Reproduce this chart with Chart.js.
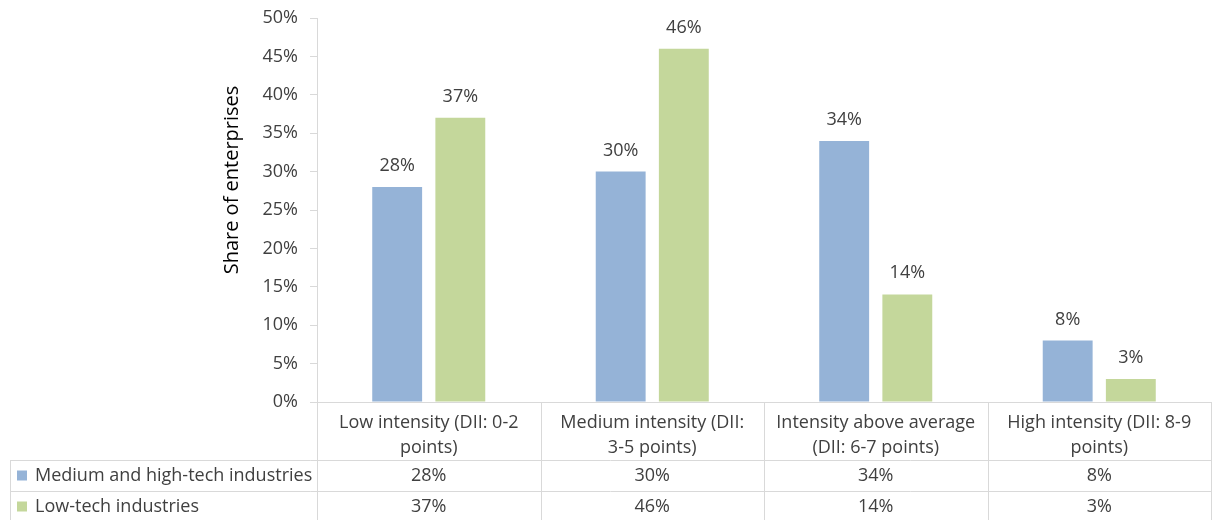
<!DOCTYPE html>
<html>
<head>
<meta charset="utf-8">
<script src="https://cdn.jsdelivr.net/npm/chart.js@4.4.0/dist/chart.umd.min.js"></script>
<style>
  html, body { margin: 0; padding: 0; background: #fff; }
  #wrap { width: 1215px; height: 520px; }
</style>
</head>
<body>
<div id="wrap"><canvas id="digiChart" width="1215" height="520"></canvas></div>
<script>
const categories = [
  ['Low intensity (DII: 0-2', 'points)'],
  ['Medium intensity (DII:', '3-5 points)'],
  ['Intensity above average', '(DII: 6-7 points)'],
  ['High intensity (DII: 8-9', 'points)']
];
const seriesNames = ['Medium and high-tech industries', 'Low-tech industries'];
const mediumHighTech = [28, 30, 34, 8];
const lowTech = [37, 46, 14, 3];
const yTicks = { min: 0, max: 50, step: 5 };
const yTitle = 'Share of enterprises';

const FONT = "'Open Sans', sans-serif";
const TEXT = '#404040';
const LINE = '#d9d9d9';
const COLORS = ['#95b3d7', '#c4d79b'];

// labels above bars
const barLabels = {
  id: 'barLabels',
  afterDatasetsDraw(chart) {
    const ctx = chart.ctx;
    ctx.save();
    ctx.font = '18px ' + FONT;
    ctx.fillStyle = TEXT;
    ctx.textAlign = 'center';
    ctx.textBaseline = 'alphabetic';
    chart.data.datasets.forEach((ds, i) => {
      chart.getDatasetMeta(i).data.forEach((bar, j) => {
        ctx.fillText(ds.data[j] + '%', bar.x, bar.y - 16);
      });
    });
    ctx.restore();
  }
};

// y axis title, sits a bit above the middle like the original
const axisTitle = {
  id: 'axisTitle',
  afterDraw(chart) {
    const ctx = chart.ctx;
    ctx.save();
    ctx.translate(232, 180);
    ctx.rotate(-Math.PI / 2);
    ctx.font = '20px ' + FONT;
    ctx.fillStyle = '#000';
    ctx.textAlign = 'center';
    ctx.textBaseline = 'middle';
    ctx.fillText(yTitle, 0, 0);
    ctx.restore();
  }
};

// data table under the x axis
const dataTable = {
  id: 'dataTable',
  afterDraw(chart) {
    const ctx = chart.ctx;
    const area = chart.chartArea;
    const xs = chart.scales.x;
    const left = 10;
    const axisX = area.left;
    const right = area.right;
    const headTop = area.bottom;
    const row1 = xs.bottom;
    const rowH = 31;
    const bottom = row1 + rowH * 2;
    const step = (right - axisX) / categories.length;

    ctx.save();
    ctx.strokeStyle = LINE;
    ctx.lineWidth = 1;
    ctx.beginPath();
    for (let r = 0; r <= 2; r++) {
      const y = Math.round(row1 + r * rowH) + 0.5;
      ctx.moveTo(left, y);
      ctx.lineTo(right, y);
    }
    ctx.moveTo(left + 0.5, row1);
    ctx.lineTo(left + 0.5, bottom);
    for (let c = 0; c <= categories.length; c++) {
      const x = Math.round(axisX + c * step) + 0.5;
      ctx.moveTo(x, headTop);
      ctx.lineTo(x, bottom);
    }
    ctx.stroke();

    ctx.font = '18px ' + FONT;
    ctx.textBaseline = 'middle';
    const rows = [mediumHighTech, lowTech];
    rows.forEach((vals, r) => {
      const cy = row1 + r * rowH + rowH / 2;
      ctx.fillStyle = COLORS[r];
      ctx.fillRect(17, cy - 5, 10, 10);
      ctx.fillStyle = TEXT;
      ctx.textAlign = 'left';
      ctx.fillText(seriesNames[r], 35, cy);
      ctx.textAlign = 'center';
      vals.forEach((v, c) => {
        ctx.fillText(v + '%', xs.getPixelForValue(c), cy);
      });
    });
    ctx.restore();
  }
};

new Chart(document.getElementById('digiChart').getContext('2d'), {
  type: 'bar',
  data: {
    labels: categories,
    datasets: [
      { label: seriesNames[0], data: mediumHighTech, backgroundColor: COLORS[0] },
      { label: seriesNames[1], data: lowTech, backgroundColor: COLORS[1] }
    ]
  },
  options: {
    responsive: false,
    animation: false,
    categoryPercentage: 0.565,
    barPercentage: 0.79,
    layout: { padding: { left: 216, right: 4, top: 18, bottom: 60 } },
    plugins: {
      legend: { display: false },
      tooltip: { enabled: false }
    },
    scales: {
      x: {
        grid: { display: false },
        border: { color: LINE },
        ticks: {
          color: TEXT,
          font: { family: FONT, size: 18, lineHeight: 1.4 },
          maxRotation: 0,
          autoSkip: false,
          padding: 0
        },
        afterFit(scale) {
          scale.height = 58;
          scale.paddingLeft = 0;
          scale.paddingRight = 0;
        }
      },
      y: {
        min: yTicks.min,
        max: yTicks.max,
        border: { color: LINE },
        grid: { drawOnChartArea: false, color: LINE, tickLength: 7 },
        ticks: {
          stepSize: yTicks.step,
          color: TEXT,
          font: { family: FONT, size: 18 },
          padding: 12,
          callback: v => v + '%'
        },
        afterFit(scale) {
          scale.width = 101;
          scale.paddingTop = 0;
          scale.paddingBottom = 0;
        }
      }
    }
  },
  plugins: [barLabels, axisTitle, dataTable]
});
</script>
</body>
</html>
